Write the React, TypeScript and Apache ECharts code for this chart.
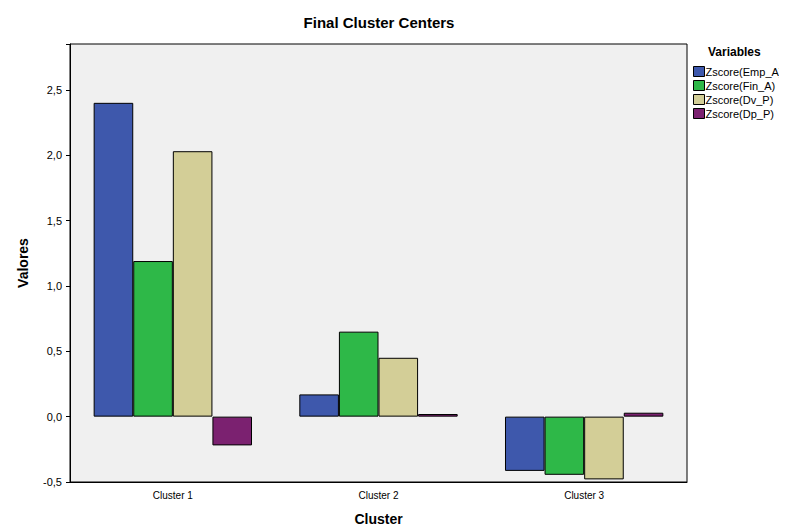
import { useEffect, useRef } from "react";
import * as echarts from "echarts";

const clusters = ["Cluster 1", "Cluster 2", "Cluster 3"];
const seriesNames = ["Zscore(Emp_A)", "Zscore(Fin_A)", "Zscore(Dv_P)", "Zscore(Dp_P)"];
const empA = [2.4, 0.17, -0.415];
const finA = [1.19, 0.65, -0.445];
const dvP = [2.03, 0.45, -0.48];
const dpP = [-0.22, 0.02, 0.03];
const colors = ["#3e58ac", "#2eb848", "#d3ce97", "#7b2170"];

export default function App() {
  const ref = useRef<HTMLDivElement>(null);

  useEffect(() => {
    if (!ref.current) return;
    const chart = echarts.init(ref.current, null, { renderer: "svg" });
    const data = [empA, finA, dvP, dpP];
    chart.setOption({
      animation: false,
      textStyle: { fontFamily: "Arial, Liberation Sans, sans-serif" },
      title: {
        text: "Final Cluster Centers",
        left: 366,
        top: 2,
        textAlign: "center",
        textStyle: { fontSize: 15, fontWeight: "bold", color: "#000" },
      },
      graphic: [
        {
          type: "text",
          left: 700,
          top: 38,
          style: { text: "Variables", font: "bold 12px Arial, Liberation Sans, sans-serif", fill: "#000" },
        },
      ],
      legend: {
        orient: "vertical",
        left: 680,
        top: 53,
        icon: "rect",
        itemWidth: 11,
        itemHeight: 10,
        itemGap: 3,
        itemStyle: { borderColor: "#000", borderWidth: 1 },
        textStyle: { fontSize: 11, color: "#000", padding: [0, 0, 0, -4] },
        data: seriesNames,
      },
      grid: { left: 54, right: 100, top: 36, bottom: 44, show: true, backgroundColor: "#f0f0f0", borderColor: "#000", borderWidth: 1 },
      xAxis: {
        type: "category",
        data: clusters,
        name: "Cluster",
        nameLocation: "middle",
        nameGap: 30,
        nameTextStyle: { fontSize: 14, fontWeight: "bold", color: "#000" },
        axisLine: { onZero: false, lineStyle: { color: "#000" } },
        axisTick: { show: false },
        axisLabel: { fontSize: 10, color: "#000" },
      },
      yAxis: {
        type: "value",
        min: -0.5,
        max: 2.85,
        interval: 0.5,
        name: "Valores",
        nameLocation: "middle",
        nameGap: 40,
        nameTextStyle: { fontSize: 14, fontWeight: "bold", color: "#000" },
        splitLine: { show: false },
        axisLine: { show: true, lineStyle: { color: "#000" } },
        axisTick: { show: true, length: 4, lineStyle: { color: "#000" } },
        axisLabel: {
          fontSize: 11,
          color: "#000",
          formatter: (v: number) => (Math.abs(v * 2 - Math.round(v * 2)) < 1e-6 ? v.toFixed(1).replace(".", ",") : ""),
        },
      },
      series: seriesNames.map((name, i) => ({
        name,
        type: "bar",
        data: data[i],
        barGap: "0%",
        barCategoryGap: "23%",
        itemStyle: { color: colors[i], borderColor: "#000", borderWidth: 1 },
      })),
    });
    return () => chart.dispose();
  }, []);

  return <div ref={ref} style={{ width: 779, height: 523 }} />;
}
